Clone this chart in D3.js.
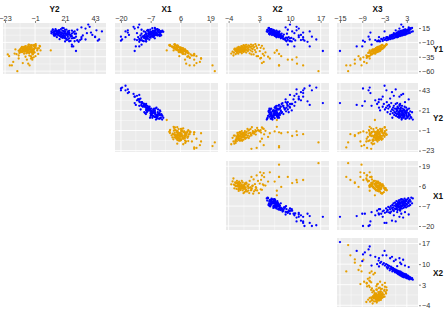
<!DOCTYPE html>
<html>
<head>
<meta charset="utf-8">
<script src="https://cdn.jsdelivr.net/npm/d3@7.9.0/dist/d3.min.js"></script>
<style>
  html, body { margin: 0; padding: 0; background: #fff; }
  svg { display: block; font-family: "Liberation Sans", Arial, sans-serif; }
  .tick-label { font-size: 7.3px; fill: #333; }
  .var-label { font-size: 8.2px; font-weight: bold; fill: #111; }
</style>
</head>
<body>
<svg id="chart" width="446" height="311"></svg>
<script>
// every row: Y1, Y2, X1, X2, X3
const variables = ['Y1', 'Y2', 'X1', 'X2', 'X3'];

const tickValues = {
  Y1: [-60, -35, -10, 15],
  Y2: [-23, -1, 21, 43],
  X1: [-20, -7, 6, 19],
  X2: [-4, 3, 10, 17],
  X3: [-15, -9, -3, 3],
};

const domains = {
  Y1: [-65, 23.7],
  Y2: [-24.5, 51],
  X1: [-22.6, 22.4],
  X2: [-4.6, 18.9],
  X3: [-15.8, 6],
};

const blueRows = [
  [-25,29,-14,17.5,-15], [-17,27,-13.5,14.5,-10.5], [-7,45,-20,13.3,-8.8], [-5,46,-19.5,16,-7],
  [0,43,-20,15,-7.3], [7,40,-17,13,-6.8], [21,38,-12,10,1.5], [9,48,-18,14.5,-3],
  [-1,43,-18,13,-2.5], [3,41,-16.5,12.5,-1], [-17,26,-12,11,-9], [-9,31,-12,14,-8.3],
  [14,36,-14,12,1], [17,39,-14.5,11.5,2], [11,44,-17,11.5,0], [-5,36,-14,13,-3.5],
  [-1,33,-12.5,12,-4.5], [12,30,-11,9.5,2.5], [16,33,-12.5,9,3.5], [-6,32,-13,12.5,-5.5],
  [-14,26,-11,9.5,-6.5], [-8,28,-10,10,-5], [6,37,-13,11,-0.5], [2,34,-11.5,12,-1.5],
  [9,28,-10,10.5,1.2], [-3,26,-9.5,8.5,-2.2], [-8,24,-9,9.2,-4.5], [5,29,-11,9.3,0.4],
  [9,11,-2,4.7,4.6], [15,19,-5.2,5.2,4.4], [8.4,13,-1.5,4.9,4.2], [12.8,14,-4,5.4,4],
  [14.7,20,-6.3,5.1,3.9], [6.3,16,-2.9,5.6,3.8], [11.6,12,-3.4,4.8,3.7], [7.8,23,-6.8,5.3,3.6],
  [13.1,18,-5,5.8,3.5], [10.2,15,-1.9,5,3.4], [5.6,14,-4.6,6.1,3.3], [12.3,22,-7.2,5.5,3.2],
  [8.9,13,-2.6,5.9,3.1], [4.9,21,-5.7,5.2,3], [11,17,-3.7,6.3,2.9], [7.2,15,-6.1,5.7,2.9],
  [10.1,24,-7.9,6.5,2.8], [3.6,18,-3.2,5.4,2.7], [9.3,20,-5.3,6,2.6], [12.5,12,-4.3,5.6,2.6],
  [6,19,-6.6,6.4,2.5], [8.3,16,-2.2,5.8,2.4], [3.1,25,-7.5,6.7,2.4], [10.9,14,-4.9,6.1,2.3],
  [5.2,22,-5.9,5.5,2.2], [7.7,17,-3.5,6.6,2.2], [11.7,21,-8.2,6.2,2.1], [2.8,13,-4.4,5.9,2],
  [6.6,18,-6.4,6.8,2], [9.5,20,-2.8,6.3,1.9], [4.1,15,-7,7,1.8], [7.9,23,-5.5,5.7,1.8],
  [1.8,19,-3.9,6.5,1.7], [10.6,26,-8.6,6.9,1.7], [5.9,11,-4.7,6,1.6], [8.6,16,-6.9,7.2,1.5],
  [2.2,17,-2.4,6.4,1.5], [6.9,24,-7.7,6.7,1.4], [9.9,14,-5.1,6.1,1.3], [3.3,22,-8.9,7.4,1.3],
  [0.9,21,-3,6.6,1.2], [7.5,18,-6.2,7,1.1], [4.4,15,-4.2,6.3,1.1], [8,27,-9.3,7.5,1],
  [1.3,20,-5.6,6.8,0.9], [5.4,13,-7.3,7.2,0.9], [3,16,-3.3,6.5,0.8], [9.1,23,-8,7.6,0.7],
  [-0.4,19,-6,7,0.7], [6.2,24,-4.5,6.7,0.6], [2.5,25,-9.6,7.8,0.5], [4.7,14,-5.4,7.3,0.5],
  [-1.2,21,-7.4,6.9,0.4], [7.1,17,-6.5,7.5,0.3], [1.6,20,-8.4,7.9,0.2], [3.9,22,-3.8,7.1,0.2],
  [-0.9,15,-5.8,7.4,0.1], [5,28,-9,8.1,0], [0.5,18,-7.1,7.6,0], [2.9,23,-4.8,7.2,-0.2],
  [-2,19,-8.7,8.2,-0.3], [4.3,16,-6.7,7.7,-0.4], [0.8,26,-10.2,8.4,-0.5], [-2.9,21,-5.2,7.9,-0.6],
  [3.5,24,-7.8,8.6,-0.7], [-0.6,18,-9.4,8,-0.8], [1.5,13,-6.3,7.5,-0.9], [-3.5,22,-8.3,8.8,-1],
  [0,29,-10.6,8.3,-1.2], [-1.8,20,-7,9.1,-1.3], [-4.4,17,-9.1,8.5,-1.5], [0.2,25,-8.1,7.9,-1.6],
  [-2.4,27,-11.1,9.4,-1.8], [-5.3,23,-7.6,8.9,-2], [-1,19,-9.8,9.7,-2.2], [-6.4,30,-10.8,9,-2.4],
  [-3.1,24,-8.5,10,-2.6], [-5.8,22,-11.4,9.5,-2.9], [-2.3,28,-9.9,10.3,-3.2], [-7.5,25,-10.4,9.9,-3.5],
  [-4.1,33,-12,10.8,-3.9], [-8.3,21,-9,10.4,-4.2], [-6.6,30,-11.8,11.2,-4.6], [6.4,17,-5.1,6.4,1.9],
  [9.2,15,-4.1,6,2.3], [4.6,20,-6.5,6.6,1.4], [7.4,12,-3.1,5.8,2.7], [2,14,-5.3,7.1,0.8],
  [5.7,23,-8.1,6.9,1.2], [10.4,19,-6,5.6,3], [1,17,-6.8,7.3,0.6], [8.2,21,-7.1,6.2,2.4],
  [3.8,12.5,-2.7,6.5,1.6], [6.7,15.5,-4.4,6.2,2.1], [-0.2,23,-8.8,7.7,0.3], [11.3,16.5,-3.8,5.3,3.5],
  [4,18.5,-5.6,7,0.8], [7,20.5,-6.8,6.5,1.7], [2.7,16,-4.6,6.8,1], [5.3,26,-9.1,7.3,1.1],
];

const orangeRows = [
  [-60,-14,21,16.5,-12.8], [-50,-18,20,7.5,-9.2], [-50,-19.5,12,7.5,-13.3], [-50,-5,10,13,-12.2],
  [-47,-6,8.5,11.6,-11], [-40,-7,8,10.5,-11], [-38,-4,15,5.4,-7], [-40,-3,12,9.5,-9.5],
  [-34,-4,5.5,8,-10], [-24,10.5,0,7,-5.6], [-24,3,3,7,-7], [-30,-3,12,7.5,-6.5],
  [-28,-2,9,6.5,-6], [-36,-2,10,11.5,-8.7], [-35,-8,9,5,-7.5], [-44,-17,14.5,4,-8.5],
  [-46,-10,13,3.6,-7.8], [-38,-13,15,3.2,-9.5], [-34,-20,13,2.4,-7.7], [-31,-21,12,1.2,-6.6],
  [-29.4,-16,7.2,-3.4,-6.2], [-26.1,-9,9.1,-3.1,-5.1], [-32.8,-13,11,-2.9,-7.9], [-22.3,-15.4,4.6,-2.7,-5.8],
  [-27.9,-6.5,7,-2.8,-6.9], [-24.6,-13,8.4,-2.5,-4.9], [-20.9,-6.5,6.7,-2.6,-5.3], [-30.5,-14.6,8.1,-2.4,-6.5],
  [-25.8,-11,6,-2.3,-6.2], [-23.3,-8,7.8,-2.2,-4.4], [-28.4,-12.5,9.4,-2.1,-7.4], [-21.4,-10,4.2,-2.2,-4],
  [-19.2,-6.6,6.2,-2,-5.1], [-26.7,-10.2,5.7,-1.9,-5], [-24.1,-7.2,8.1,-1.8,-6.5], [-29.7,-9,6.9,-1.8,-5.5],
  [-22.6,-9.5,7,-1.7,-3.9], [-17.8,-10.6,2.9,-1.7,-4.8], [-25.2,-3.3,8.9,-1.6,-4.7], [-23.7,-11.6,4.7,-1.6,-5.9],
  [-20.3,-7,6.9,-1.5,-3.7], [-27.1,-11.9,6,-1.5,-7], [-21.8,-2.6,4.4,-1.4,-5.6], [-24.9,-9.8,7.9,-1.4,-4.2],
  [-18.6,-3.5,3.5,-1.3,-4.6], [-22.1,-12,8,-1.3,-6.2], [-26.2,-7.5,5.8,-1.2,-4.6], [-19.9,-4.9,6.2,-1.2,-3.3],
  [-23,-9,4.9,-1.1,-5.9], [-16.4,-7.8,4.4,-1.1,-3], [-28.9,-5.3,9.5,-1,-5.6], [-21.1,-1.6,6.9,-1,-3.9],
  [-24.3,-12.2,5.4,-0.9,-6.1], [-17.2,-5.4,5,-0.9,-4.4], [-20,-8.4,3.3,-0.8,-5.3], [-25.5,-4.4,8.4,-0.8,-5],
  [-22.9,-6.4,4.7,-0.7,-4.2], [-18.9,-8,5.8,-0.7,-4.9], [-14.9,-3.7,1.4,-0.6,-3.6], [-26.9,-11,6.3,-0.6,-5.4],
  [-21.6,-4.5,6.5,-0.5,-4.3], [-23.8,-6.9,5.1,-0.5,-5.8], [-16.9,-6.2,2.1,-0.4,-3.2], [-19.5,-3.9,5.6,-0.4,-5.1],
  [-24.7,-8.3,7.8,-0.3,-4.7], [-15.7,-1.7,4.4,-0.3,-3.9], [-22.4,-5.7,3.9,-0.2,-5.5], [-20.6,-10,7.2,-0.2,-3.5],
  [-18.2,-5.2,2.7,-0.1,-4.5], [-27.6,-3.2,8.3,0,-5.3], [-14.2,-5.8,3.7,0,-2.6], [-23.1,-2.2,7.6,0.1,-5.7],
  [-17.5,-8.6,2.5,0.2,-4.2], [-20.8,0.8,6.2,0.3,-3.6], [-25,-6.7,5.8,0.4,-6.3], [-15.2,-4.2,4.7,0.5,-2.7],
  [-19,-1.2,3.1,0.5,-4.7], [-22,-9.3,7,0.6,-4.2], [-16.1,-0.4,1.5,0.7,-4], [-29,-7.4,9.4,0.8,-5.9],
  [-18,-3.7,5,0.9,-3.1], [-24,0.6,5.2,1,-6], [-13.8,-5.5,3.3,1.1,-2.4], [-20.4,-6.4,3.6,1.2,-5.1],
  [-17,2.6,4.6,1.3,-3], [-26,-4,6.1,1.4,-5.2], [-21.5,-1.6,6.3,1.5,-4], [-15,-2.4,1.1,1.6,-3.7],
  [-31,-2.6,10.4,1.7,-6.4], [-18.5,-4.4,2.6,1.8,-4.6], [-23.4,-2.6,7.3,2,-4.3], [-13.2,-0.5,3.5,2.1,-2.5],
  [-27,-5.4,5.3,2.2,-7], [-16.6,-1.8,4.8,2.3,-2.9], [-20.2,1.8,3.2,2.5,-5.2], [-34,-0.7,9.4,2.7,-7.2],
  [-14.5,-1.2,1.4,2.9,-3.6], [-25.3,-2,7.7,3.1,-5], [-19.4,-0.6,3.9,3.3,-4.8], [-37,-3.2,10.1,3.4,-7.8],
  [-16,2.3,3.6,3.6,-2.9], [-30,1.3,7.2,3.8,-6.6], [-21,0.7,6.6,4,-4.2], [-33,-5.2,11.9,4.1,-6.9],
  [-27.5,-1.3,6.4,4.4,-7.1], [-23.6,-10.3,4.7,-1.6,-4.7], [-22.7,-5.2,8,-1.9,-5.3], [-25,-11.6,5.4,-1.1,-5.2],
  [-21,-8.8,3.9,-1.8,-5.4], [-24.4,-3.6,7.9,-2,-4.6], [-19.8,-11.1,6.2,-1,-3.8], [-26.4,-4.3,6.1,-1.3,-6.6],
  [-20,-6.3,4.3,-0.6,-4.3], [-23.2,-7,6.2,-1.3,-5], [-18.4,-9.4,5.2,-0.1,-3.8], [-22,-3.9,5.6,-0.9,-4.8],
  [-25.6,-8.7,7,-0.4,-5.5], [-21.2,-11.4,6,-2.4,-4.5], [-19,-7.5,4.1,-1.6,-4.2], [-24.5,-5.8,6.4,-1.7,-5.1],
];

const colX = { Y2: [3, 106], X1: [115, 218], X2: [226, 329], X3: [337, 418] };
const rowY = { Y1: [23, 74], Y2: [83, 152], X1: [161, 230], X2: [238, 307] };
const panelBg = '#ebebeb';
const blue = '#0000ff';
const orange = '#e69f00';

const svg = d3.select('#chart');

const xScales = {};
const yScales = {};
for (const v of Object.keys(colX)) xScales[v] = d3.scaleLinear().domain(domains[v]).range(colX[v]);
for (const v of Object.keys(rowY)) yScales[v] = d3.scaleLinear().domain(domains[v]).range([rowY[v][1], rowY[v][0]]);

// midpoints between ticks for the thin grid lines
function minorTicks(ticks) {
  return d3.pairs(ticks).map(([a, b]) => (a + b) / 2);
}

function drawPanel(rowVar, colVar) {
  const x = xScales[colVar];
  const y = yScales[rowVar];
  const g = svg.append('g');
  const [x0, x1] = x.range();
  const [y1, y0] = y.range();
  const ri = variables.indexOf(rowVar);
  const ci = variables.indexOf(colVar);

  g.append('rect')
    .attr('x', x0).attr('y', y0)
    .attr('width', x1 - x0).attr('height', y1 - y0)
    .attr('fill', panelBg);

  g.selectAll('.vminor').data(minorTicks(tickValues[colVar])).join('line')
    .attr('x1', d => x(d)).attr('x2', d => x(d)).attr('y1', y0).attr('y2', y1)
    .attr('stroke', '#fff').attr('stroke-width', 0.4);
  g.selectAll('.hminor').data(minorTicks(tickValues[rowVar])).join('line')
    .attr('y1', d => y(d)).attr('y2', d => y(d)).attr('x1', x0).attr('x2', x1)
    .attr('stroke', '#fff').attr('stroke-width', 0.4);
  g.selectAll('.vmajor').data(tickValues[colVar]).join('line')
    .attr('x1', d => x(d)).attr('x2', d => x(d)).attr('y1', y0).attr('y2', y1)
    .attr('stroke', '#fff').attr('stroke-width', 0.9);
  g.selectAll('.hmajor').data(tickValues[rowVar]).join('line')
    .attr('y1', d => y(d)).attr('y2', d => y(d)).attr('x1', x0).attr('x2', x1)
    .attr('stroke', '#fff').attr('stroke-width', 0.9);

  const drawDots = (rows, color) => g.append('g').selectAll('circle').data(rows).join('circle')
    .attr('cx', d => x(d[ci]))
    .attr('cy', d => y(d[ri]))
    .attr('r', 1.15)
    .attr('fill', color);
  drawDots(orangeRows, orange);
  drawDots(blueRows, blue);
}

const colVars = ['Y2', 'X1', 'X2', 'X3'];
const rowVars = ['Y1', 'Y2', 'X1', 'X2'];

rowVars.forEach((rowVar, r) => {
  colVars.forEach((colVar, c) => {
    if (c >= r) drawPanel(rowVar, colVar);
  });
});

// top axes
colVars.forEach(v => {
  const axis = d3.axisTop(xScales[v]).tickValues(tickValues[v]).tickSize(2).tickPadding(0.5);
  const g = svg.append('g').attr('transform', 'translate(0,23)').call(axis);
  g.select('.domain').remove();
  g.selectAll('.tick line').attr('stroke', '#333').attr('stroke-width', 0.6);
  g.selectAll('text').attr('class', 'tick-label').attr('font-family', null).attr('font-size', null);
  const [a, b] = xScales[v].range();
  svg.append('text').attr('class', 'var-label')
    .attr('x', (a + b) / 2).attr('y', 12).attr('text-anchor', 'middle').text(v);
});

// right axes
rowVars.forEach(v => {
  const axis = d3.axisRight(yScales[v]).tickValues(tickValues[v]).tickSize(2).tickPadding(1);
  const g = svg.append('g').attr('transform', 'translate(419,0)').call(axis);
  g.select('.domain').remove();
  g.selectAll('.tick line').attr('stroke', '#333').attr('stroke-width', 0.6);
  g.selectAll('text').attr('class', 'tick-label').attr('font-family', null).attr('font-size', null);
  const [b, a] = yScales[v].range();
  svg.append('text').attr('class', 'var-label')
    .attr('x', 433).attr('y', (a + b) / 2 + 3).attr('text-anchor', 'start').text(v);
});
</script>
</body>
</html>
